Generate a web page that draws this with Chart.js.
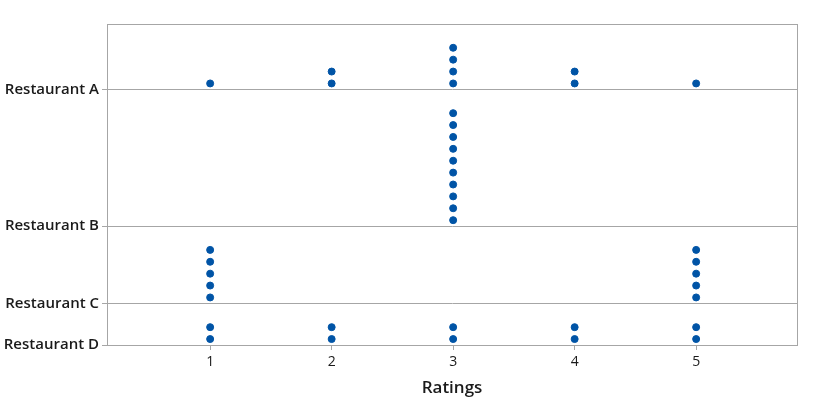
<!DOCTYPE html>
<html><head><meta charset="utf-8">
<script src="https://cdn.jsdelivr.net/npm/chart.js@4"></script>
<style>html,body{margin:0;padding:0;background:#fff}</style>
</head><body>
<canvas id="c" width="813" height="411"></canvas>
<script>
const ratings = [1, 2, 3, 4, 5];
const restaurants = ['Restaurant A', 'Restaurant B', 'Restaurant C', 'Restaurant D'];
const countsA = [1, 2, 4, 2, 1];
const countsB = [0, 0, 10, 0, 0];
const countsC = [5, 0, 0, 0, 5];
const countsD = [2, 2, 2, 2, 2];
const allCounts = [countsA, countsB, countsC, countsD];

// baseline of each row (stack units), built bottom-up: each row is tall enough for its highest stack
const bases = new Array(restaurants.length);
let acc = 0;
for (let i = restaurants.length - 1; i >= 0; i--) {
  bases[i] = acc;
  acc += Math.max(...allCounts[i]) + 1.5;
}
const yMax = acc;

const points = [];
allCounts.forEach((cnts, i) => {
  cnts.forEach((n, j) => {
    for (let k = 0; k < n; k++) points.push({ x: ratings[j], y: bases[i] + 0.5 + k });
  });
});

const frame = {
  id: 'frame',
  afterDraw(chart) {
    const a = chart.chartArea, ctx = chart.ctx;
    ctx.save();
    ctx.strokeStyle = '#a6a6a6';
    ctx.lineWidth = 1;
    ctx.strokeRect(Math.round(a.left) + 0.5, Math.round(a.top) + 0.5, Math.round(a.right - a.left), Math.round(a.bottom - a.top));
    ctx.restore();
  }
};

new Chart(document.getElementById('c'), {
  type: 'scatter',
  data: { datasets: [{ data: points, backgroundColor: '#0054a6', borderColor: '#0054a6', pointRadius: 3.5, pointHoverRadius: 3.5 }] },
  options: {
    responsive: false, animation: false,
    layout: { padding: { left: 0, right: 16, top: 24, bottom: 0 } },
    plugins: { legend: { display: false }, tooltip: { enabled: false } },
    scales: {
      x: {
        type: 'linear', min: 0.151, max: 5.83,
        afterBuildTicks: s => { s.ticks = ratings.map(v => ({ value: v })); },
        afterFit: s => { s.height = 66; },
        grid: { drawOnChartArea: false, color: '#a6a6a6', tickLength: 5 },
        border: { color: '#a6a6a6' },
        ticks: { color: '#1a1a1a', font: { family: 'Open Sans', size: 14 }, padding: 4, maxRotation: 0 },
        title: { display: true, text: 'Ratings', color: '#1a1a1a', font: { family: 'Open Sans', size: 17, weight: '600' }, padding: { top: 4, bottom: 13 } }
      },
      y: {
        type: 'linear', min: 0, max: yMax,
        afterBuildTicks: s => { s.ticks = bases.map(v => ({ value: v })); },
        afterFit: s => { s.width = 107; },
        grid: { color: '#a6a6a6', tickLength: 5 },
        border: { color: '#a6a6a6' },
        ticks: {
          color: '#1a1a1a', font: { family: 'Open Sans', size: 15, weight: '600' }, padding: 3, autoSkip: false,
          callback: (v) => { const i = bases.indexOf(v); return i >= 0 ? restaurants[i] : ''; }
        }
      }
    }
  },
  plugins: [frame]
});
</script>
</body></html>
